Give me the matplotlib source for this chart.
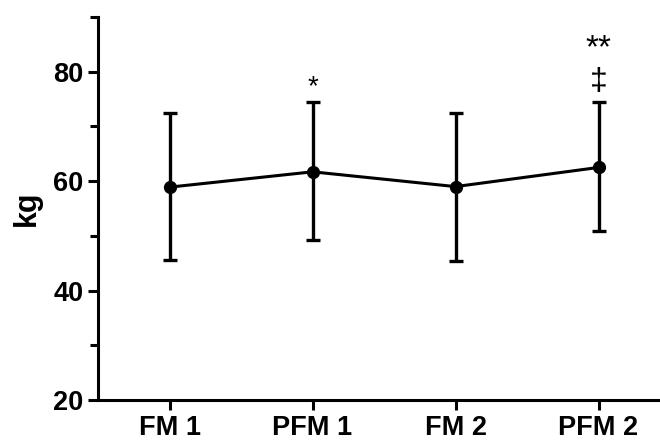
import matplotlib.pyplot as plt
from matplotlib.ticker import MultipleLocator

plt.rcParams['font.family'] = ['Liberation Sans', 'DejaVu Sans']
plt.rcParams['font.weight'] = 'bold'

# Data
groups = ['FM 1', 'PFM 1', 'FM 2', 'PFM 2']
means = [58.9, 61.7, 59.0, 62.5]
upper = [72.4, 74.5, 72.5, 74.4]
lower = [45.5, 49.2, 45.4, 50.9]

x = list(range(len(groups)))
err_lo = [m - l for m, l in zip(means, lower)]
err_hi = [u - m for m, u in zip(means, upper)]

fig = plt.figure(figsize=(6.6, 4.41), dpi=100)
ax = fig.add_axes([0.1485, 0.093, 0.8515, 0.8685])

ax.errorbar(x, means, yerr=[err_lo, err_hi], color='black', lw=2.2,
            elinewidth=2.4, capsize=5, capthick=2.4, marker='o', ms=8.5)

# significance marks
ax.text(1, 77.1, '*', ha='center', va='center', fontsize=20, fontweight='normal')
ax.text(3, 84.2, '**', ha='center', va='center', fontsize=24, fontweight='normal')
ax.text(3, 78.2, '‡', ha='center', va='center', fontsize=23, fontweight='normal')

ax.set_xlim(-0.5, 3.43)
ax.set_ylim(20, 90)
ax.set_xticks(x)
ax.set_xticklabels(groups)
ax.yaxis.set_major_locator(MultipleLocator(20))
ax.yaxis.set_minor_locator(MultipleLocator(10))
ax.set_ylabel('kg', fontsize=22, fontweight='bold', labelpad=8)

for s in ['top', 'right']:
    ax.spines[s].set_visible(False)
for s in ['left', 'bottom']:
    ax.spines[s].set_linewidth(2.2)
ax.tick_params(which='major', length=7.5, width=2.2, labelsize=19.5, pad=3)
ax.tick_params(which='minor', length=6, width=2.2)
ax.tick_params(axis='x', which='minor', length=0)

fig.savefig('out.png', dpi=100)
